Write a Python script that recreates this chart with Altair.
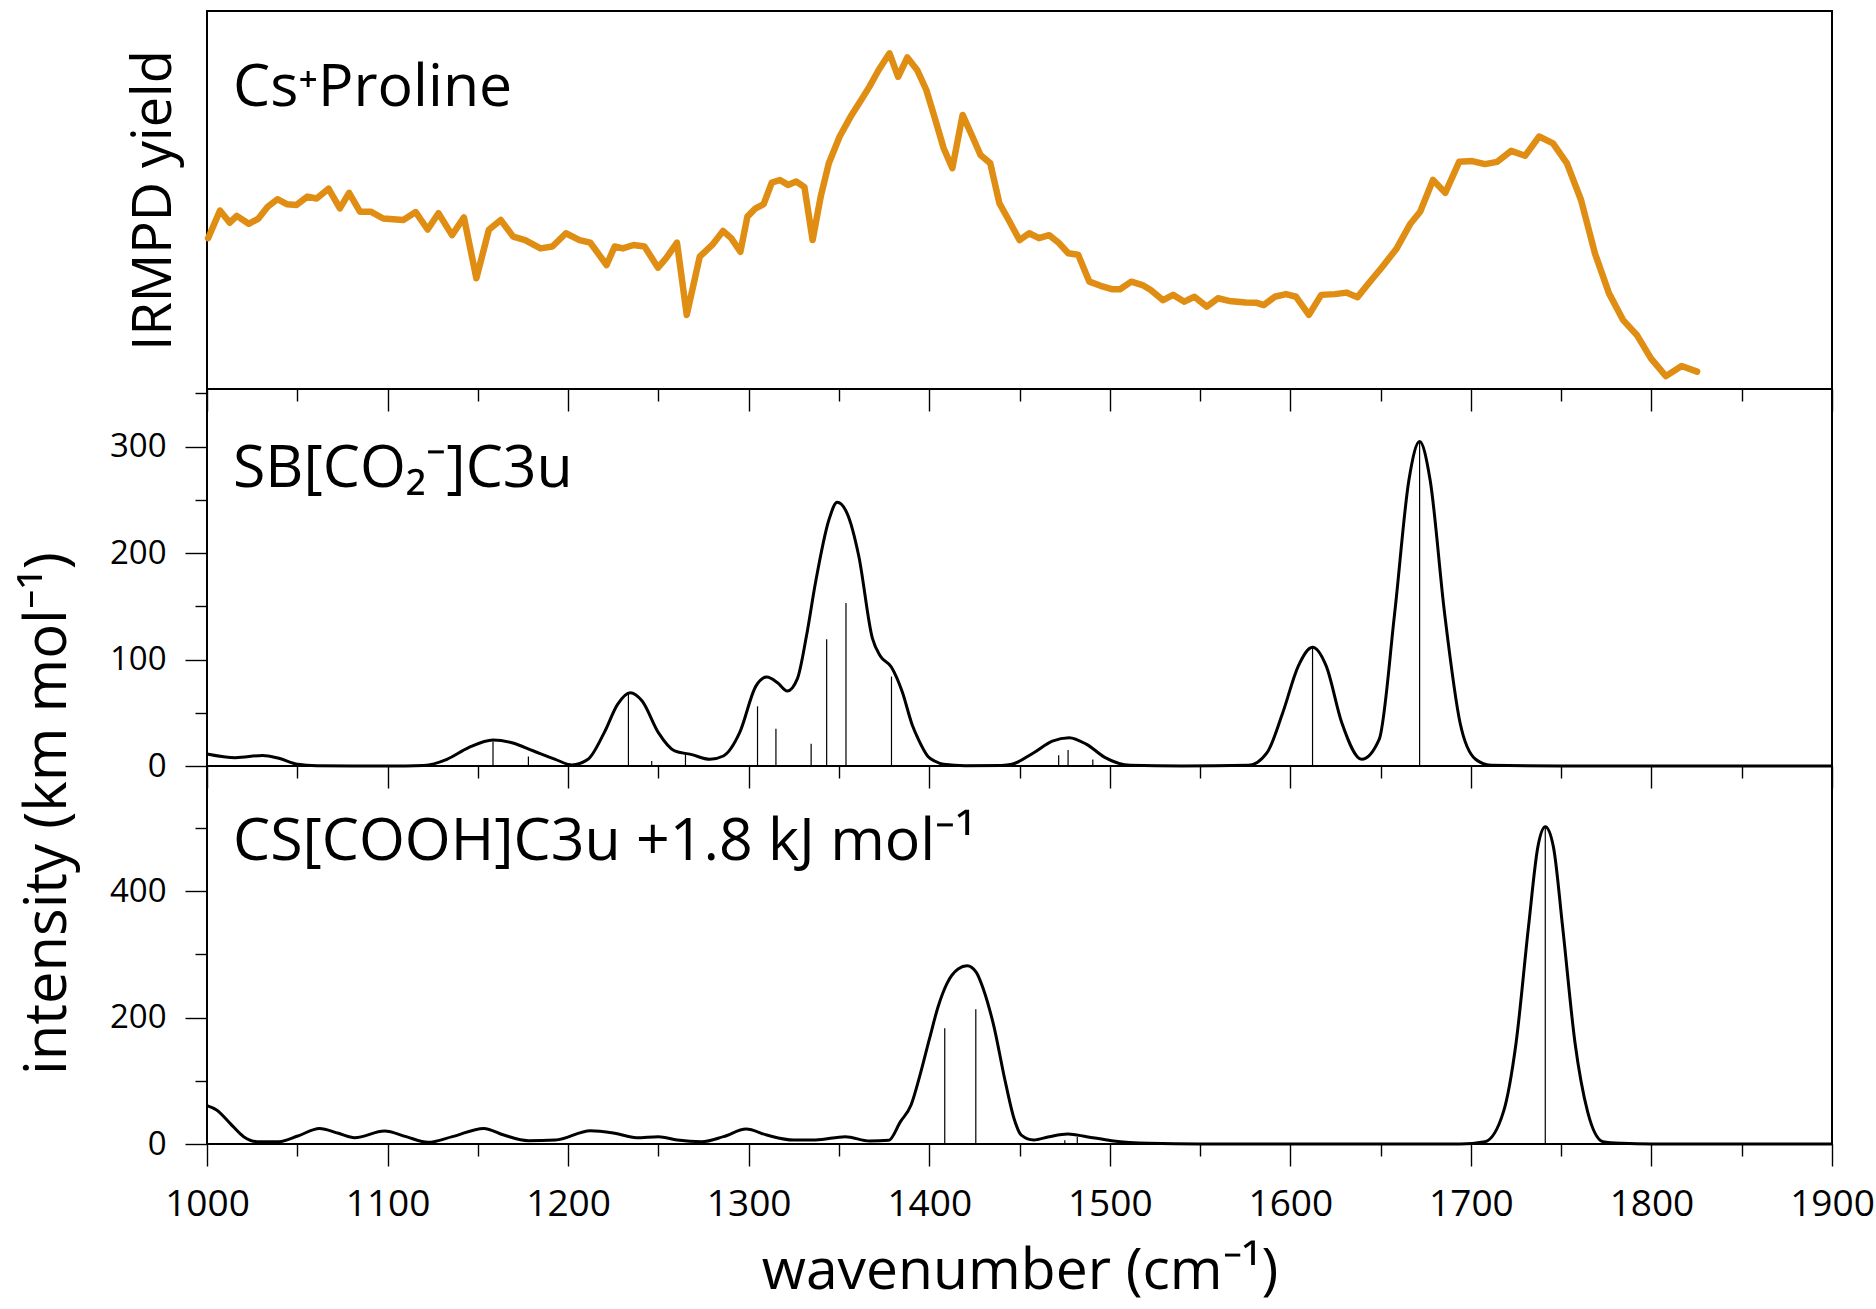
import altair as alt
import pandas as pd

FONT = "Open Sans"
ORANGE = "#E08D14"

# ---- experimental IRMPD spectrum of Cs+Proline (relative yield) ----
irmpd_wn = [1000.6, 1007.2, 1012.6, 1016.5, 1023.1, 1028.5, 1033.6, 1039.0, 1044.2, 1049.6,
            1055.6, 1060.7, 1067.3, 1073.6, 1078.7, 1084.7, 1090.7, 1097.6, 1108.7, 1115.6,
            1122.2, 1128.2, 1135.7, 1142.3, 1149.2, 1156.1, 1162.7, 1169.6, 1176.2, 1184.7,
            1191.3, 1198.8, 1206.3, 1212.3, 1221.3, 1225.8, 1230.3, 1236.3, 1242.3, 1249.8,
            1254.3, 1260.3, 1265.7, 1272.9, 1279.8, 1285.8, 1290.3, 1295.4, 1299.3, 1303.8,
            1308.3, 1312.8, 1317.3, 1321.8, 1326.3, 1330.9, 1335.4, 1339.9, 1344.4, 1350.4,
            1356.4, 1362.4, 1366.9, 1372.0, 1378.0, 1382.8, 1387.9, 1393.3, 1398.4, 1402.9,
            1408.0, 1412.8, 1418.5, 1423.9, 1428.4, 1433.8, 1438.9, 1444.0, 1450.0, 1455.4,
            1460.8,
            1466.4, 1471.7, 1477.0, 1482.5, 1488.7, 1494.9, 1501.1, 1505.7, 1511.9, 1518.1,
            1522.7, 1529.5, 1535.1, 1541.3, 1546.9, 1553.7, 1559.9, 1566.1, 1575.3, 1581.5,
            1585.2, 1591.4, 1597.6, 1603.2, 1610.3, 1617.1, 1624.8, 1631.0, 1637.2, 1643.4,
            1651.1, 1658.9, 1666.6, 1671.9, 1679.0, 1685.8, 1693.5, 1700.7, 1707.8, 1714.6,
            1722.3, 1730.0, 1737.8, 1745.5, 1753.2, 1761.0, 1768.7, 1776.5, 1784.2, 1791.9,
            1799.7, 1808.0, 1816.7, 1825.3]
irmpd_yield = [0.399, 0.472, 0.440, 0.458, 0.437, 0.451, 0.482, 0.502, 0.489, 0.487,
               0.509, 0.504, 0.530, 0.478, 0.519, 0.469, 0.469, 0.451, 0.447, 0.468,
               0.422, 0.465, 0.407, 0.454, 0.293, 0.421, 0.447, 0.403, 0.394, 0.372,
               0.377, 0.412, 0.394, 0.387, 0.328, 0.377, 0.372, 0.381, 0.377, 0.321,
               0.346, 0.387, 0.196, 0.350, 0.381, 0.418, 0.399, 0.363, 0.456, 0.478,
               0.489, 0.546, 0.553, 0.540, 0.549, 0.534, 0.394, 0.509, 0.597, 0.668,
               0.720, 0.765, 0.800, 0.844, 0.888, 0.826, 0.877, 0.844, 0.791, 0.720,
               0.637, 0.584, 0.725, 0.668, 0.619, 0.597, 0.491, 0.447, 0.394, 0.412,
               0.399,
               0.407, 0.387, 0.359, 0.355, 0.284, 0.273, 0.264, 0.264, 0.284, 0.275,
               0.262, 0.235, 0.249, 0.231, 0.244, 0.218, 0.240, 0.233, 0.229, 0.228,
               0.222, 0.244, 0.251, 0.244, 0.196, 0.249, 0.251, 0.255, 0.243, 0.280,
               0.324, 0.372, 0.438, 0.469, 0.553, 0.519, 0.601, 0.603, 0.595, 0.601,
               0.630, 0.617, 0.668, 0.650, 0.597, 0.500, 0.359, 0.253, 0.183, 0.143,
               0.081, 0.034, 0.061, 0.046]

# ---- computed spectrum SB[CO2-]C3u (km/mol) ----
sb_wn = [1000, 1015.8, 1030.8, 1039.8, 1050.3, 1060.8, 1080, 1100, 1120, 1132.9,
         1144.9, 1158.4, 1168.9, 1180.9, 1192.9, 1202.0, 1211.0, 1220.0, 1227.4, 1234.4,
         1241.0, 1250.0, 1259.0, 1268.0, 1278.5, 1286.0, 1295.0, 1304.0, 1310.0, 1316.0,
         1321.4, 1327.0, 1332.0, 1337.0, 1344.5, 1349.0, 1354.4, 1361.0, 1368.5, 1373.0,
         1379.0, 1385.0, 1390.7, 1394.0, 1399.3, 1403.0, 1408.0, 1420, 1440, 1445.8,
         1457.9, 1468.2, 1477.5, 1487.2, 1497.5, 1511.3, 1540, 1576.8, 1587.1, 1595.8,
         1604.4, 1612.3, 1619.9, 1628.5, 1639.5, 1649.2, 1657.8, 1665.7, 1671.6, 1677.4,
         1685.4, 1694.0, 1702.6, 1711.2, 1750, 1900]
sb_int = [11.3, 7.8, 9.9, 7.2, 1.6, 0.3, 0, 0, 0.5, 6.3,
          17.2, 24.4, 21.9, 14.1, 6.3, 1.0, 6.3, 31.3, 57.9, 68.8,
          61.0, 31.3, 14.1, 10.9, 6.3, 9.4, 31.3, 75.0, 83.5, 78.2,
          70.4, 82.0, 122.0, 172.0, 231.4, 247.7, 237.7, 197.0, 120.0, 103.0,
          93.0, 70.0, 38.0, 25.0, 9.0, 4.7, 1.6, 0.3, 0.5, 1.6,
          12.5, 23.4, 26.6, 20.3, 7.8, 0.6, 0, 0.6, 12.5, 50.0,
          93.8, 111.6, 93.8, 40.6, 6.3, 25.0, 143.8, 268.8, 304.7, 268.8,
          143.8, 40.6, 6.3, 0.6, 0, 0]
sb_stick_wn = [1158.4, 1178.0, 1233.4, 1246.3, 1265.0, 1304.9, 1315.1, 1334.6, 1343.2,
               1353.9, 1379.1, 1471.7, 1476.9, 1490.6, 1612.3, 1671.6]
sb_stick_int = [23, 9, 68, 4.7, 12, 56, 35, 21, 119, 153, 84, 10, 15, 6, 111, 304]

# ---- computed spectrum CS[COOH]C3u (km/mol) ----
cs_wn = [1000, 1005.3, 1012.8, 1020.3, 1027.8, 1039.8, 1050.3, 1062.3, 1072.8, 1081.8,
         1098.3, 1110.3, 1122.4, 1135.9, 1153.3, 1164.4, 1177.9, 1193.0, 1212.4, 1225.9,
         1237.9, 1250.0, 1260.5, 1274.0, 1286.0, 1298.6, 1310.0, 1325.0, 1337.0, 1353.5,
         1367.0, 1377.6, 1384.0, 1390.0, 1395.0, 1400.0, 1405.0, 1410.0, 1416.0, 1421.0,
         1426.0, 1430.0, 1435.5, 1442.4, 1447.0, 1451.0, 1457.9, 1466.5, 1476.8, 1487.2,
         1501.0, 1521.7, 1550, 1694,
         1707.8, 1718.1, 1725.0, 1731.9, 1737.1, 1741.2, 1745.7, 1750.8, 1757.7, 1764.6,
         1773.2, 1783.6, 1800, 1900]
cs_int = [60.6, 53.7, 32.6, 11.6, 3.7, 3.7, 12.6, 24.7, 16.9, 10.0,
          20.5, 11.6, 2.6, 11.6, 24.7, 14.2, 5.3, 6.3, 21.1, 16.9,
          10.0, 11.6, 6.3, 3.7, 11.6, 23.7, 14.2, 6.3, 6.3, 11.6,
          4.7, 6.0, 35.0, 62.0, 110.0, 165.0, 218.0, 255.0, 277.0, 282.0,
          272.0, 245.0, 190.0, 95.0, 40.0, 14.0, 6.3, 11.6, 15.8, 11.6,
          5.3, 1.1, 0, 0,
          3.7, 51.6, 159.5, 343.6, 470.1, 501.7, 470.1, 343.6, 159.5, 51.6,
          3.7, 1.1, 0, 0]
cs_stick_wn = [1408.6, 1425.8, 1475.1, 1482.0, 1741.2]
cs_stick_int = [183, 213, 6, 11, 501]

# axis tick positions
x_ticks = list(range(1000, 1901, 50))
sb_ticks = list(range(0, 351, 50))
cs_ticks = list(range(0, 551, 50))

W = 1625
H1, H2, H3 = 378, 377, 378

xscale = alt.Scale(domain=[1000, 1900], nice=False, zero=False)


def long_short(test, long_len, short_len):
    return {"condition": {"test": test, "value": long_len}, "value": short_len}


def x_axis(show_labels=False):
    kw = dict(
        orient="bottom", values=x_ticks, grid=False, domain=False,
        tickColor="black", tickWidth=1.4,
        tickSize=long_short("datum.value % 100 === 0", 22, 12),
    )
    if show_labels:
        kw.update(
            labels=True, format="d",
            labelExpr="datum.value % 100 === 0 ? datum.label : ''",
            labelFont=FONT, labelFontSize=37, labelColor="black", labelPadding=20,
            labelFlush=False, labelOverlap=False,
            title="wavenumber (cm⁻¹)", titleFont=FONT, titleFontSize=57,
            titleFontWeight="normal", titleColor="black", titleY=144,
            titleBaseline="alphabetic",
        )
    else:
        kw.update(labels=False, title=None)
    return alt.Axis(**kw)


def y_axis(values, major_test, title=None):
    kw = dict(
        orient="left", values=values, grid=False, domain=False,
        tickColor="black", tickWidth=1.4,
        tickSize=long_short(major_test, 22, 12),
        labelExpr=f"{major_test} ? datum.label : ''",
        labelFont=FONT, labelFontSize=33, labelColor="black", labelPadding=19,
        labelOverlap=False,
    )
    if title:
        kw.update(title=title, titleFont=FONT, titleFontSize=58, titleFontWeight="normal",
                  titleColor="black", titleX=-142, titleY=47, titleAngle=270,
                  titleAlign="center", titleBaseline="alphabetic")
    else:
        kw.update(title=None)
    return alt.Axis(**kw)


def panel_label(text, baseline_y):
    return alt.Chart(pd.DataFrame({"label": [text]})).mark_text(
        align="left", baseline="alphabetic", font=FONT, fontSize=59, color="black"
    ).encode(x=alt.value(26), y=alt.value(baseline_y), text="label:N")


# ---- top panel: IRMPD ----
irmpd = pd.DataFrame({"wn": irmpd_wn, "y": irmpd_yield})
top_line = alt.Chart(irmpd).mark_line(
    color=ORANGE, strokeWidth=6.5, strokeJoin="round", strokeCap="round"
).encode(
    x=alt.X("wn:Q", scale=xscale, axis=x_axis()),
    y=alt.Y("y:Q", scale=alt.Scale(domain=[0, 1], nice=False, zero=False),
            axis=alt.Axis(orient="left", title="IRMPD yield", labels=False, ticks=False,
                          domain=False, grid=False, titleFont=FONT, titleFontSize=54,
                          titleFontWeight="normal", titleColor="black", titleX=-37,
                          titleY=189, titleAngle=270, titleAlign="center",
                          titleBaseline="alphabetic")),
)
top = alt.layer(top_line, panel_label("Cs⁺Proline", 95)).properties(width=W, height=H1)

# ---- middle panel: SB[CO2-]C3u ----
sb_scale = alt.Scale(domain=[0, 354], nice=False, zero=False)
sb_curve = alt.Chart(pd.DataFrame({"wn": sb_wn, "i": sb_int})).mark_line(
    color="black", strokeWidth=3, interpolate="monotone"
).encode(
    x=alt.X("wn:Q", scale=xscale, axis=x_axis()),
    y=alt.Y("i:Q", scale=sb_scale, axis=y_axis(sb_ticks, "datum.value % 100 === 0")),
)
sb_sticks = alt.Chart(pd.DataFrame({"wn": sb_stick_wn, "i": sb_stick_int})).mark_rule(
    color="black", strokeWidth=1.2
).encode(x=alt.X("wn:Q", scale=xscale), y=alt.Y("i:Q", scale=sb_scale), y2=alt.datum(0))
mid = alt.layer(sb_curve, sb_sticks, panel_label("SB[CO₂⁻]C3u", 98)).properties(width=W, height=H2)

# ---- bottom panel: CS[COOH]C3u ----
cs_scale = alt.Scale(domain=[0, 598], nice=False, zero=False)
cs_curve = alt.Chart(pd.DataFrame({"wn": cs_wn, "i": cs_int})).mark_line(
    color="black", strokeWidth=3, interpolate="monotone"
).encode(
    x=alt.X("wn:Q", scale=xscale, axis=x_axis(show_labels=True)),
    y=alt.Y("i:Q", scale=cs_scale,
            axis=y_axis(cs_ticks, "datum.value % 200 === 0", title="intensity (km mol⁻¹)")),
)
cs_sticks = alt.Chart(pd.DataFrame({"wn": cs_stick_wn, "i": cs_stick_int})).mark_rule(
    color="black", strokeWidth=1.2
).encode(x=alt.X("wn:Q", scale=xscale), y=alt.Y("i:Q", scale=cs_scale), y2=alt.datum(0))
bot = alt.layer(cs_curve, cs_sticks,
                panel_label("CS[COOH]C3u +1.8 kJ mol⁻¹", 94)).properties(width=W, height=H3)

chart = alt.vconcat(top, mid, bot, spacing=0, bounds="flush").properties(
    padding={"left": 17, "top": 10, "right": 0, "bottom": 7},
    background="white",
).configure_view(stroke="black", strokeWidth=2)

chart.save("out.html", embed_options={"renderer": "svg", "actions": False})
